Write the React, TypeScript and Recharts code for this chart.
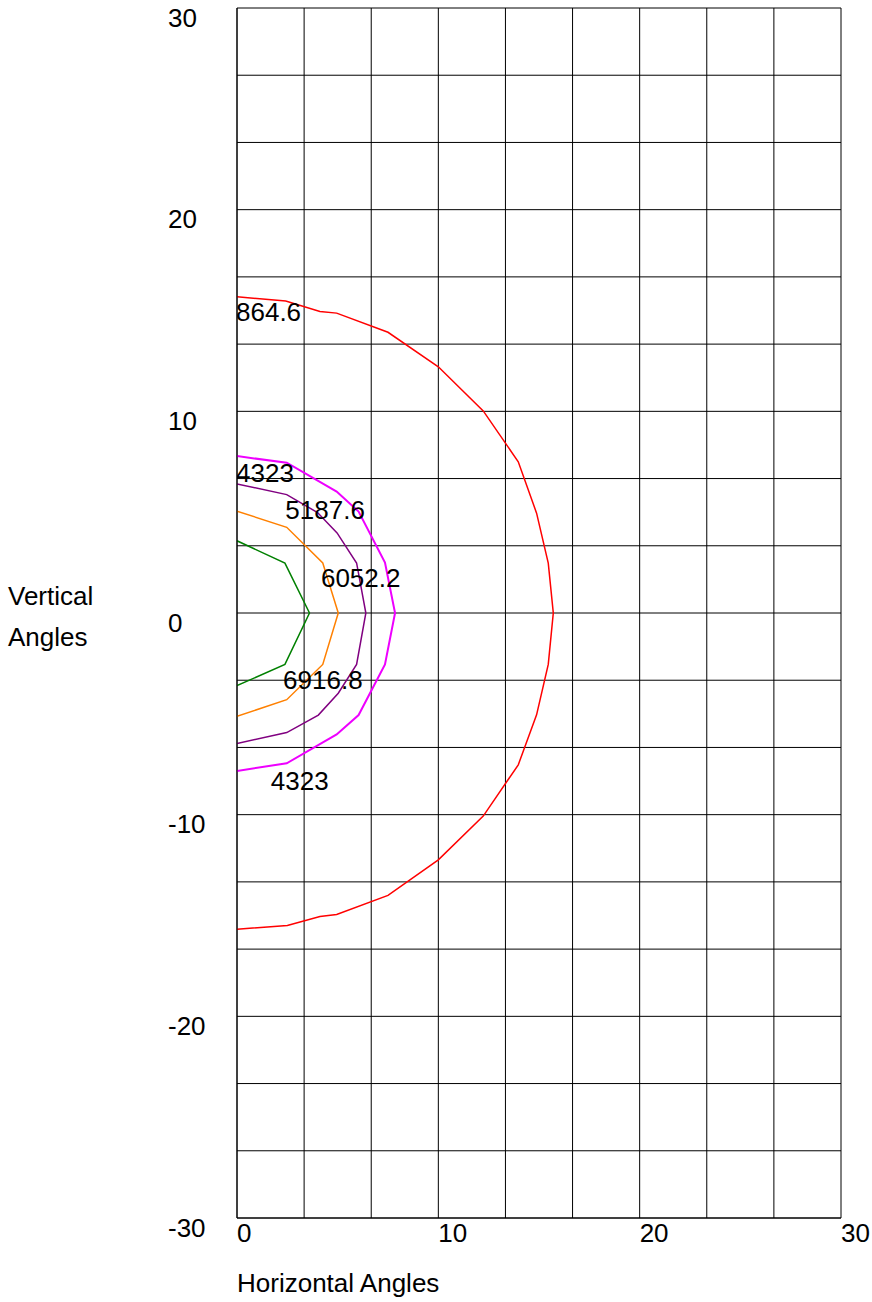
import React from 'react';
import { ComposedChart, Line, Scatter, XAxis, YAxis, CartesianGrid } from 'recharts';

// Grid positions (axis ticks) and printed tick labels
const xGridTicks = [0, 10 / 3, 20 / 3, 10, 40 / 3, 50 / 3, 20, 70 / 3, 80 / 3, 30];
const yGridTicks = [-30, -80 / 3, -70 / 3, -20, -50 / 3, -40 / 3, -10, -20 / 3, -10 / 3, 0, 10 / 3, 20 / 3, 10, 40 / 3, 50 / 3, 20, 70 / 3, 80 / 3, 30];
const xTickLabels = [0, 10, 20, 30];
const yTickLabels = [-30, -20, -10, 0, 10, 20, 30];

// Contour series (horizontal angle x, vertical angle y)
const red864 = [
  { x: 0, y: 15.68 }, { x: 2.42, y: 15.47 }, { x: 4.12, y: 14.95 }, { x: 4.95, y: 14.87 },
  { x: 7.5, y: 13.92 }, { x: 10, y: 12.21 }, { x: 12.23, y: 10.02 }, { x: 13.97, y: 7.5 },
  { x: 14.88, y: 4.95 }, { x: 15.46, y: 2.47 }, { x: 15.71, y: 0 }, { x: 15.46, y: -2.55 },
  { x: 14.88, y: -5.05 }, { x: 13.97, y: -7.53 }, { x: 12.23, y: -10.07 }, { x: 10, y: -12.24 },
  { x: 7.5, y: -14.0 }, { x: 4.95, y: -14.95 }, { x: 4.12, y: -15.05 }, { x: 2.5, y: -15.5 },
  { x: 0, y: -15.68 },
];
const magenta4323 = [
  { x: 0, y: 7.78 }, { x: 2.47, y: 7.45 }, { x: 4.95, y: 6.02 }, { x: 6.04, y: 5.03 },
  { x: 7.35, y: 2.5 }, { x: 7.85, y: 0 }, { x: 7.35, y: -2.55 }, { x: 6.04, y: -5.06 },
  { x: 4.95, y: -6.02 }, { x: 2.47, y: -7.45 }, { x: 0, y: -7.83 },
];
const purple5187 = [
  { x: 0, y: 6.4 }, { x: 2.47, y: 5.87 }, { x: 4.0, y: 4.98 }, { x: 4.97, y: 3.97 },
  { x: 5.94, y: 2.48 }, { x: 6.4, y: 0 }, { x: 5.94, y: -2.55 }, { x: 5.03, y: -3.98 },
  { x: 4.04, y: -5.06 }, { x: 2.47, y: -5.93 }, { x: 0, y: -6.47 },
];
const orange6052 = [
  { x: 0, y: 5.05 }, { x: 2.47, y: 4.25 }, { x: 4.26, y: 2.48 }, { x: 5.03, y: 0 },
  { x: 4.26, y: -2.55 }, { x: 2.47, y: -4.3 }, { x: 0, y: -5.12 },
];
const green6916 = [
  { x: 0, y: 3.58 }, { x: 2.38, y: 2.47 }, { x: 3.6, y: 0 }, { x: 2.38, y: -2.55 }, { x: 0, y: -3.6 },
];

// Contour value labels (placed at data coordinates; text baseline at y)
const contourLabels = [
  { x: 0, y: 14.49, text: '864.6' },
  { x: 0, y: 6.51, text: '4323' },
  { x: 2.45, y: 4.66, text: '5187.6' },
  { x: 4.22, y: 1.27, text: '6052.2' },
  { x: 2.34, y: -3.79, text: '6916.8' },
  { x: 1.73, y: -8.78, text: '4323' },
];

const FONT = '"Liberation Sans", Arial, sans-serif';
const FS = 26;

const near = (list: number[], v: number) => list.find((t) => Math.abs(t - v) < 1e-6);

const XTick = (props: any) => {
  const { x, y, payload } = props;
  const lab = near(xTickLabels, payload.value);
  if (lab === undefined) return <g />;
  return (
    <text x={x} y={y + 24} fontFamily={FONT} fontSize={FS} fill="#000" textAnchor="start">
      {lab}
    </text>
  );
};

const YTick = (props: any) => {
  const { x, y, payload } = props;
  const lab = near(yTickLabels, payload.value);
  if (lab === undefined) return <g />;
  return (
    <text x={x - 69} y={y + 18.7} fontFamily={FONT} fontSize={FS} fill="#000" textAnchor="start">
      {lab}
    </text>
  );
};

const XTitle = (props: any) => {
  const vb = props.viewBox || {};
  return (
    <text x={vb.x} y={vb.y + 74} fontFamily={FONT} fontSize={FS} fill="#000" textAnchor="start">
      Horizontal Angles
    </text>
  );
};

const YTitle = (props: any) => {
  const vb = props.viewBox || {};
  const cy = vb.y + vb.height / 2;
  return (
    <text fontFamily={FONT} fontSize={FS} fill="#000" textAnchor="start">
      <tspan x={vb.x - 160} y={cy - 8}>Vertical</tspan>
      <tspan x={vb.x - 160} y={cy + 33}>Angles</tspan>
    </text>
  );
};

const LabelShape = (props: any) => {
  const { cx, cy, payload } = props;
  return (
    <text x={cx - 1} y={cy} fontFamily={FONT} fontSize={FS} fill="#000" textAnchor="start">
      {payload.text}
    </text>
  );
};

export default function App() {
  return (
    <div style={{ position: 'absolute', left: 0, top: 0, width: 872, height: 1302, background: '#fff' }}>
      <ComposedChart width={872} height={1302} margin={{ top: 8, right: 31, bottom: 0, left: 168 }}>
        <CartesianGrid stroke="#000" strokeWidth={1} />
        <XAxis
          type="number"
          dataKey="x"
          domain={[0, 30]}
          ticks={xGridTicks}
          interval={0}
          allowDataOverflow
          height={84}
          tickSize={0}
          tickMargin={0}
          tickLine={false}
          axisLine={{ stroke: '#000' }}
          tick={<XTick />}
          label={XTitle}
        />
        <YAxis
          type="number"
          dataKey="y"
          domain={[-30, 30]}
          ticks={yGridTicks}
          interval={0}
          allowDataOverflow
          width={69}
          tickSize={0}
          tickMargin={0}
          tickLine={false}
          axisLine={{ stroke: '#000' }}
          tick={<YTick />}
          label={YTitle}
        />
        <Line data={red864} dataKey="y" type="linear" stroke="#ff0000" strokeWidth={1.5} dot={false} activeDot={false} isAnimationActive={false} />
        <Line data={magenta4323} dataKey="y" type="linear" stroke="#ee00ff" strokeWidth={2} dot={false} activeDot={false} isAnimationActive={false} />
        <Line data={purple5187} dataKey="y" type="linear" stroke="#800080" strokeWidth={1.5} dot={false} activeDot={false} isAnimationActive={false} />
        <Line data={orange6052} dataKey="y" type="linear" stroke="#ff8000" strokeWidth={1.5} dot={false} activeDot={false} isAnimationActive={false} />
        <Line data={green6916} dataKey="y" type="linear" stroke="#008000" strokeWidth={1.5} dot={false} activeDot={false} isAnimationActive={false} />
        <Scatter data={contourLabels} dataKey="y" shape={<LabelShape />} isAnimationActive={false} />
      </ComposedChart>
    </div>
  );
}
